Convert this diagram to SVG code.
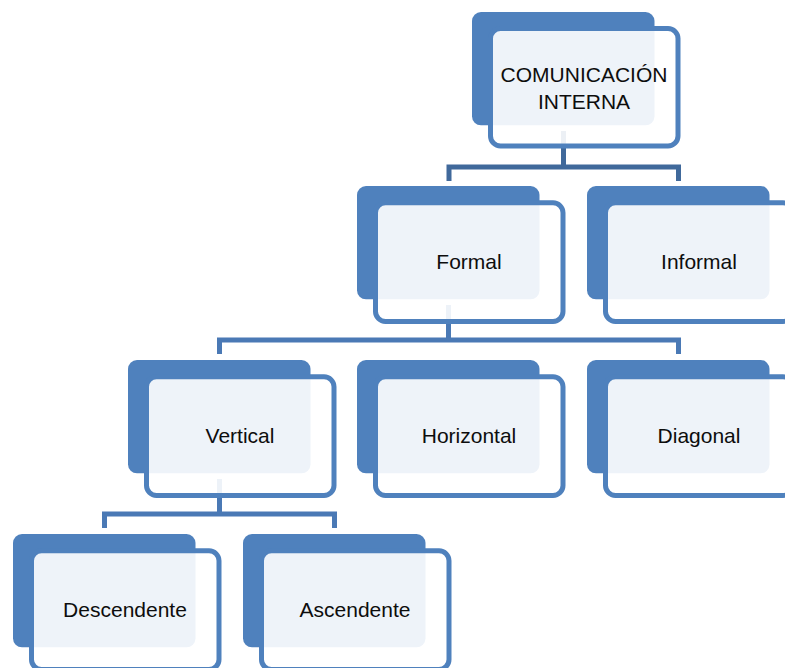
<svg xmlns="http://www.w3.org/2000/svg" width="785" height="668" viewBox="0 0 785 668">
<style>
.back{fill:#4f81bd}
.front{fill:#ffffff;fill-opacity:0.9;stroke:#4f81bd;stroke-width:5}
.lbl{font-family:"Liberation Sans",Arial,sans-serif;font-size:21px;fill:#0d0d0d;text-anchor:middle}
.c1{fill:none;stroke:#40699b;stroke-width:5}
.c2{fill:none;stroke:#4a79b5;stroke-width:5}
</style>
<rect width="785" height="668" fill="#ffffff"/>
<g id="connectors">
<path class="c1" d="M563.5,131 V167 M449,181 V167 H678.5 V181"/>
<path class="c2" d="M448.5,305 V340 M219.5,354 V340 H678.5 V354"/>
<path class="c2" d="M219.5,479 V514 M104.5,528 V514 H334.5 V528"/>
</g>
<g id="n-comunicacion">
<rect class="back" x="472" y="12" width="182.5" height="113.3" rx="9"/>
<rect class="front" x="490.5" y="28.5" width="187.5" height="117.5" rx="10"/>
<text class="lbl" x="584" y="82">COMUNICACIÓN</text>
<text class="lbl" x="584" y="108.5">INTERNA</text>
</g>
<g id="n-formal">
<rect class="back" x="357" y="186" width="182.5" height="113.3" rx="9"/>
<rect class="front" x="375.5" y="202.8" width="187.5" height="118.7" rx="10"/>
<text class="lbl" x="469" y="269">Formal</text>
</g>
<g id="n-informal">
<rect class="back" x="587" y="186" width="182.5" height="113.3" rx="9"/>
<rect class="front" x="605.5" y="202.8" width="187.5" height="118.7" rx="10"/>
<text class="lbl" x="699" y="269">Informal</text>
</g>
<g id="n-vertical">
<rect class="back" x="128" y="360" width="182.5" height="113.3" rx="9"/>
<rect class="front" x="146.5" y="376.8" width="187.5" height="118.7" rx="10"/>
<text class="lbl" x="240" y="443">Vertical</text>
</g>
<g id="n-horizontal">
<rect class="back" x="357" y="360" width="182.5" height="113.3" rx="9"/>
<rect class="front" x="375.5" y="376.8" width="187.5" height="118.7" rx="10"/>
<text class="lbl" x="469" y="443">Horizontal</text>
</g>
<g id="n-diagonal">
<rect class="back" x="587" y="360" width="182.5" height="113.3" rx="9"/>
<rect class="front" x="605.5" y="376.8" width="187.5" height="118.7" rx="10"/>
<text class="lbl" x="699" y="443">Diagonal</text>
</g>
<g id="n-descendente">
<rect class="back" x="13" y="534" width="182.5" height="113.3" rx="9"/>
<rect class="front" x="31.5" y="550.8" width="187.5" height="118.7" rx="10"/>
<text class="lbl" x="125" y="617">Descendente</text>
</g>
<g id="n-ascendente">
<rect class="back" x="243" y="534" width="182.5" height="113.3" rx="9"/>
<rect class="front" x="261.5" y="550.8" width="187.5" height="118.7" rx="10"/>
<text class="lbl" x="355" y="617">Ascendente</text>
</g>
</svg>
